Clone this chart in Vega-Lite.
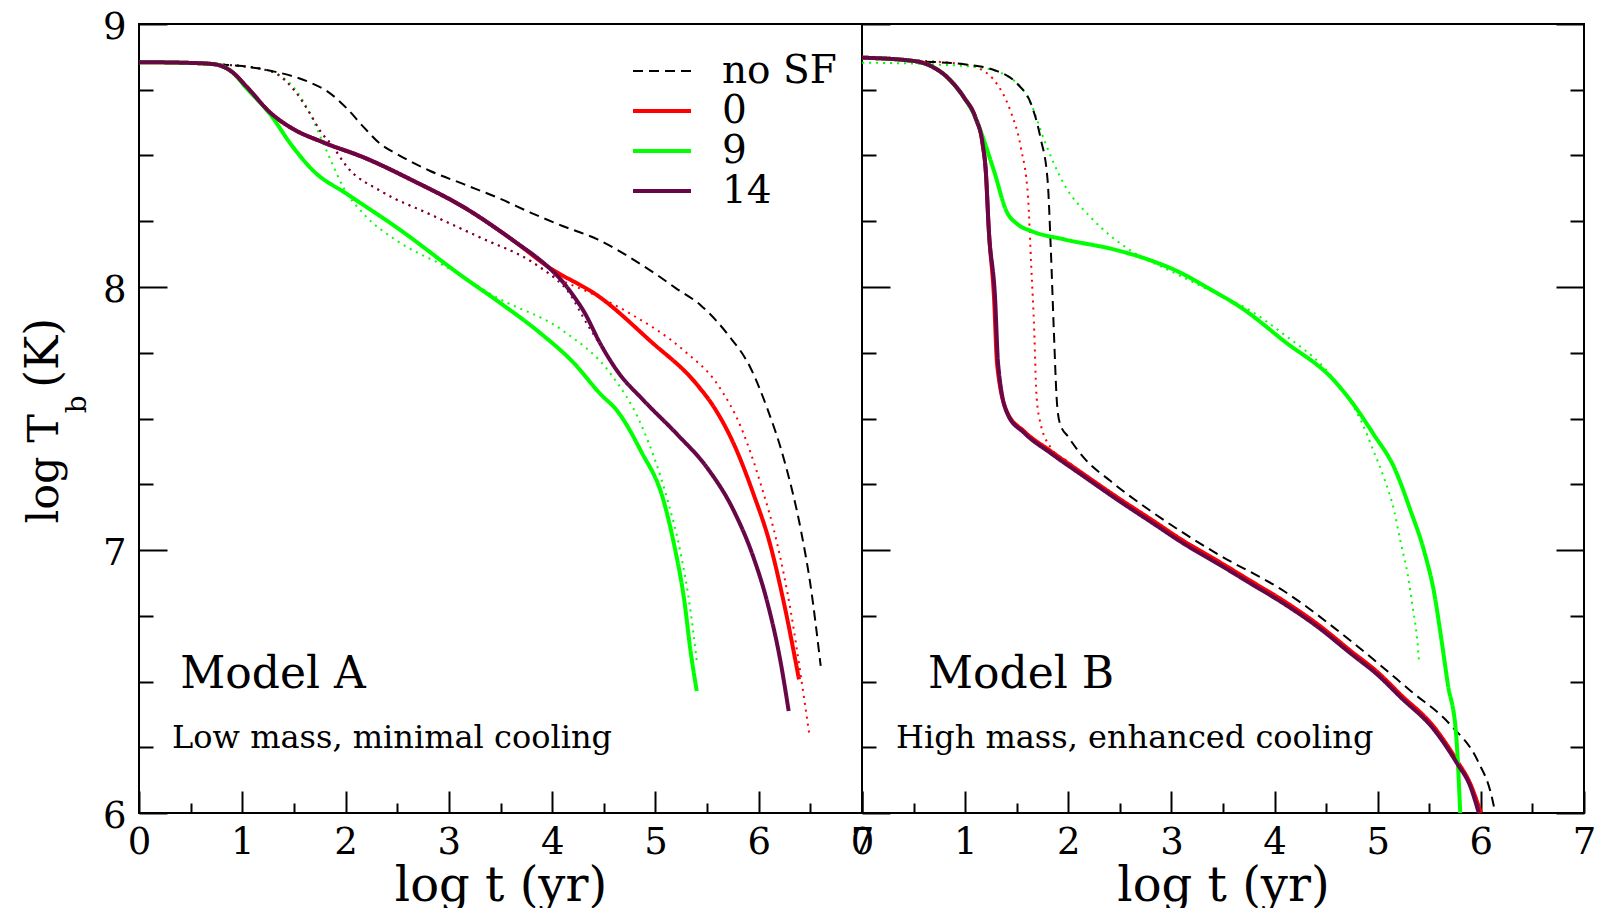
{
  "$schema": "https://vega.github.io/schema/vega-lite/v6.json",
  "background": "white",
  "padding": {"left": 19, "top": 7, "right": 0, "bottom": 0},
  "config": {
    "view": {"stroke": "black", "strokeWidth": 2},
    "axis": {
      "grid": false, "domain": false,
      "tickColor": "black", "tickWidth": 2,
      "labelFont": "DejaVu Serif", "labelFontSize": 37, "labelColor": "black",
      "labelFlush": false, "labelOverlap": false,
      "titleFont": "DejaVu Serif", "titleFontSize": 48, "titleFontWeight": "normal", "titleColor": "black"
    },
    "text": {"font": "DejaVu Serif", "color": "black"}
  },
  "datasets": {
    "A_main": [
      {"series": "no SF", "logt": 0, "logTb": 8.855}, {"series": "no SF", "logt": 0.5, "logTb": 8.852}, {"series": "no SF", "logt": 0.73, "logTb": 8.847}, {"series": "no SF", "logt": 1.0, "logTb": 8.84}, {"series": "no SF", "logt": 1.31, "logTb": 8.819}, {"series": "no SF", "logt": 1.5, "logTb": 8.8}, {"series": "no SF", "logt": 1.66, "logTb": 8.777}, {"series": "no SF", "logt": 1.82, "logTb": 8.745}, {"series": "no SF", "logt": 2.02, "logTb": 8.676}, {"series": "no SF", "logt": 2.18, "logTb": 8.606}, {"series": "no SF", "logt": 2.34, "logTb": 8.543}, {"series": "no SF", "logt": 2.5, "logTb": 8.505}, {"series": "no SF", "logt": 2.82, "logTb": 8.441}, {"series": "no SF", "logt": 3.15, "logTb": 8.39}, {"series": "no SF", "logt": 3.5, "logTb": 8.335}, {"series": "no SF", "logt": 3.79, "logTb": 8.283}, {"series": "no SF", "logt": 4.1, "logTb": 8.232}, {"series": "no SF", "logt": 4.44, "logTb": 8.181}, {"series": "no SF", "logt": 4.73, "logTb": 8.118}, {"series": "no SF", "logt": 5.0, "logTb": 8.05}, {"series": "no SF", "logt": 5.2, "logTb": 7.995}, {"series": "no SF", "logt": 5.44, "logTb": 7.93}, {"series": "no SF", "logt": 5.7, "logTb": 7.82}, {"series": "no SF", "logt": 5.92, "logTb": 7.693}, {"series": "no SF", "logt": 6.08, "logTb": 7.541}, {"series": "no SF", "logt": 6.24, "logTb": 7.351}, {"series": "no SF", "logt": 6.41, "logTb": 7.072}, {"series": "no SF", "logt": 6.5, "logTb": 6.87}, {"series": "no SF", "logt": 6.6, "logTb": 6.559},
      {"series": "0", "logt": 0, "logTb": 8.855}, {"series": "0", "logt": 0.5, "logTb": 8.852}, {"series": "0", "logt": 0.73, "logTb": 8.847}, {"series": "0", "logt": 0.89, "logTb": 8.821}, {"series": "0", "logt": 1.05, "logTb": 8.758}, {"series": "0", "logt": 1.27, "logTb": 8.663}, {"series": "0", "logt": 1.47, "logTb": 8.606}, {"series": "0", "logt": 1.79, "logTb": 8.549}, {"series": "0", "logt": 2.18, "logTb": 8.492}, {"series": "0", "logt": 2.66, "logTb": 8.403}, {"series": "0", "logt": 3.15, "logTb": 8.302}, {"series": "0", "logt": 3.63, "logTb": 8.175}, {"series": "0", "logt": 3.95, "logTb": 8.08}, {"series": "0", "logt": 4.47, "logTb": 7.959}, {"series": "0", "logt": 4.95, "logTb": 7.795}, {"series": "0", "logt": 5.4, "logTb": 7.63}, {"series": "0", "logt": 5.57, "logTb": 7.541}, {"series": "0", "logt": 5.76, "logTb": 7.402}, {"series": "0", "logt": 5.95, "logTb": 7.212}, {"series": "0", "logt": 6.11, "logTb": 7.022}, {"series": "0", "logt": 6.24, "logTb": 6.806}, {"series": "0", "logt": 6.39, "logTb": 6.508},
      {"series": "9", "logt": 0, "logTb": 8.855}, {"series": "9", "logt": 0.5, "logTb": 8.852}, {"series": "9", "logt": 0.73, "logTb": 8.847}, {"series": "9", "logt": 0.89, "logTb": 8.821}, {"series": "9", "logt": 1.05, "logTb": 8.752}, {"series": "9", "logt": 1.27, "logTb": 8.657}, {"series": "9", "logt": 1.47, "logTb": 8.543}, {"series": "9", "logt": 1.69, "logTb": 8.441}, {"series": "9", "logt": 2.02, "logTb": 8.352}, {"series": "9", "logt": 2.5, "logTb": 8.225}, {"series": "9", "logt": 3.15, "logTb": 8.035}, {"series": "9", "logt": 3.47, "logTb": 7.947}, {"series": "9", "logt": 3.9, "logTb": 7.82}, {"series": "9", "logt": 4.2, "logTb": 7.715}, {"series": "9", "logt": 4.47, "logTb": 7.592}, {"series": "9", "logt": 4.63, "logTb": 7.529}, {"series": "9", "logt": 4.86, "logTb": 7.376}, {"series": "9", "logt": 5.08, "logTb": 7.186}, {"series": "9", "logt": 5.18, "logTb": 7.022}, {"series": "9", "logt": 5.28, "logTb": 6.806}, {"series": "9", "logt": 5.34, "logTb": 6.616}, {"series": "9", "logt": 5.4, "logTb": 6.464},
      {"series": "14", "logt": 0, "logTb": 8.855}, {"series": "14", "logt": 0.5, "logTb": 8.852}, {"series": "14", "logt": 0.73, "logTb": 8.847}, {"series": "14", "logt": 0.89, "logTb": 8.821}, {"series": "14", "logt": 1.05, "logTb": 8.758}, {"series": "14", "logt": 1.27, "logTb": 8.663}, {"series": "14", "logt": 1.47, "logTb": 8.606}, {"series": "14", "logt": 1.79, "logTb": 8.549}, {"series": "14", "logt": 2.18, "logTb": 8.492}, {"series": "14", "logt": 2.66, "logTb": 8.403}, {"series": "14", "logt": 3.15, "logTb": 8.302}, {"series": "14", "logt": 3.63, "logTb": 8.175}, {"series": "14", "logt": 3.95, "logTb": 8.08}, {"series": "14", "logt": 4.08, "logTb": 8.03}, {"series": "14", "logt": 4.2, "logTb": 7.97}, {"series": "14", "logt": 4.31, "logTb": 7.905}, {"series": "14", "logt": 4.47, "logTb": 7.782}, {"series": "14", "logt": 4.63, "logTb": 7.681}, {"series": "14", "logt": 4.89, "logTb": 7.567}, {"series": "14", "logt": 5.21, "logTb": 7.44}, {"series": "14", "logt": 5.5, "logTb": 7.313}, {"series": "14", "logt": 5.76, "logTb": 7.148}, {"series": "14", "logt": 5.95, "logTb": 6.971}, {"series": "14", "logt": 6.08, "logTb": 6.806}, {"series": "14", "logt": 6.21, "logTb": 6.578}, {"series": "14", "logt": 6.29, "logTb": 6.388}
    ],
    "A_alt": [
      {"series": "0", "logt": 0, "logTb": 8.855}, {"series": "0", "logt": 0.73, "logTb": 8.847}, {"series": "0", "logt": 1.0, "logTb": 8.84}, {"series": "0", "logt": 1.2, "logTb": 8.828}, {"series": "0", "logt": 1.34, "logTb": 8.809}, {"series": "0", "logt": 1.5, "logTb": 8.75}, {"series": "0", "logt": 1.66, "logTb": 8.657}, {"series": "0", "logt": 1.76, "logTb": 8.59}, {"series": "0", "logt": 1.86, "logTb": 8.543}, {"series": "0", "logt": 2.02, "logTb": 8.454}, {"series": "0", "logt": 2.34, "logTb": 8.365}, {"series": "0", "logt": 2.82, "logTb": 8.276}, {"series": "0", "logt": 3.31, "logTb": 8.187}, {"series": "0", "logt": 3.79, "logTb": 8.099}, {"series": "0", "logt": 3.98, "logTb": 8.048}, {"series": "0", "logt": 4.4, "logTb": 7.972}, {"series": "0", "logt": 4.75, "logTb": 7.9}, {"series": "0", "logt": 5.28, "logTb": 7.757}, {"series": "0", "logt": 5.6, "logTb": 7.63}, {"series": "0", "logt": 5.83, "logTb": 7.465}, {"series": "0", "logt": 6.02, "logTb": 7.25}, {"series": "0", "logt": 6.18, "logTb": 7.022}, {"series": "0", "logt": 6.31, "logTb": 6.768}, {"series": "0", "logt": 6.41, "logTb": 6.515}, {"series": "0", "logt": 6.49, "logTb": 6.299},
      {"series": "9", "logt": 0, "logTb": 8.855}, {"series": "9", "logt": 0.73, "logTb": 8.847}, {"series": "9", "logt": 1.0, "logTb": 8.84}, {"series": "9", "logt": 1.2, "logTb": 8.828}, {"series": "9", "logt": 1.34, "logTb": 8.809}, {"series": "9", "logt": 1.5, "logTb": 8.758}, {"series": "9", "logt": 1.66, "logTb": 8.657}, {"series": "9", "logt": 1.76, "logTb": 8.568}, {"series": "9", "logt": 1.86, "logTb": 8.479}, {"series": "9", "logt": 1.98, "logTb": 8.378}, {"series": "9", "logt": 2.18, "logTb": 8.276}, {"series": "9", "logt": 2.5, "logTb": 8.175}, {"series": "9", "logt": 2.99, "logTb": 8.073}, {"series": "9", "logt": 3.47, "logTb": 7.959}, {"series": "9", "logt": 4.1, "logTb": 7.835}, {"series": "9", "logt": 4.57, "logTb": 7.668}, {"series": "9", "logt": 4.86, "logTb": 7.478}, {"series": "9", "logt": 5.12, "logTb": 7.186}, {"series": "9", "logt": 5.24, "logTb": 6.996}, {"series": "9", "logt": 5.34, "logTb": 6.768}, {"series": "9", "logt": 5.4, "logTb": 6.578},
      {"series": "14", "logt": 0, "logTb": 8.855}, {"series": "14", "logt": 0.73, "logTb": 8.847}, {"series": "14", "logt": 1.0, "logTb": 8.84}, {"series": "14", "logt": 1.2, "logTb": 8.828}, {"series": "14", "logt": 1.34, "logTb": 8.809}, {"series": "14", "logt": 1.5, "logTb": 8.75}, {"series": "14", "logt": 1.66, "logTb": 8.657}, {"series": "14", "logt": 1.76, "logTb": 8.59}, {"series": "14", "logt": 1.86, "logTb": 8.543}, {"series": "14", "logt": 2.02, "logTb": 8.454}, {"series": "14", "logt": 2.34, "logTb": 8.365}, {"series": "14", "logt": 2.82, "logTb": 8.276}, {"series": "14", "logt": 3.31, "logTb": 8.187}, {"series": "14", "logt": 3.79, "logTb": 8.099}, {"series": "14", "logt": 3.98, "logTb": 8.048}, {"series": "14", "logt": 4.15, "logTb": 7.985}, {"series": "14", "logt": 4.34, "logTb": 7.858}, {"series": "14", "logt": 4.45, "logTb": 7.79}
    ],
    "B_main": [
      {"series": "no SF", "logt": 0, "logTb": 8.872}, {"series": "no SF", "logt": 0.51, "logTb": 8.859}, {"series": "no SF", "logt": 0.99, "logTb": 8.847}, {"series": "no SF", "logt": 1.31, "logTb": 8.821}, {"series": "no SF", "logt": 1.51, "logTb": 8.771}, {"series": "no SF", "logt": 1.64, "logTb": 8.695}, {"series": "no SF", "logt": 1.73, "logTb": 8.568}, {"series": "no SF", "logt": 1.8, "logTb": 8.403}, {"series": "no SF", "logt": 1.83, "logTb": 8.15}, {"series": "no SF", "logt": 1.86, "logTb": 7.833}, {"series": "no SF", "logt": 1.89, "logTb": 7.56}, {"series": "no SF", "logt": 1.92, "logTb": 7.48}, {"series": "no SF", "logt": 2.0, "logTb": 7.43}, {"series": "no SF", "logt": 2.15, "logTb": 7.351}, {"series": "no SF", "logt": 2.41, "logTb": 7.262}, {"series": "no SF", "logt": 2.8, "logTb": 7.148}, {"series": "no SF", "logt": 3.45, "logTb": 6.984}, {"series": "no SF", "logt": 4.09, "logTb": 6.844}, {"series": "no SF", "logt": 4.74, "logTb": 6.654}, {"series": "no SF", "logt": 5.32, "logTb": 6.464}, {"series": "no SF", "logt": 5.7, "logTb": 6.337}, {"series": "no SF", "logt": 5.97, "logTb": 6.198}, {"series": "no SF", "logt": 6.1, "logTb": 6.071}, {"series": "no SF", "logt": 6.14, "logTb": 6.0},
      {"series": "0", "logt": 0, "logTb": 8.872}, {"series": "0", "logt": 0.51, "logTb": 8.859}, {"series": "0", "logt": 0.67, "logTb": 8.84}, {"series": "0", "logt": 0.83, "logTb": 8.796}, {"series": "0", "logt": 0.99, "logTb": 8.72}, {"series": "0", "logt": 1.1, "logTb": 8.644}, {"series": "0", "logt": 1.17, "logTb": 8.543}, {"series": "0", "logt": 1.2, "logTb": 8.441}, {"series": "0", "logt": 1.23, "logTb": 8.213}, {"series": "0", "logt": 1.28, "logTb": 7.959}, {"series": "0", "logt": 1.31, "logTb": 7.706}, {"series": "0", "logt": 1.41, "logTb": 7.522}, {"series": "0", "logt": 1.57, "logTb": 7.452}, {"series": "0", "logt": 1.83, "logTb": 7.376}, {"series": "0", "logt": 2.15, "logTb": 7.288}, {"series": "0", "logt": 2.48, "logTb": 7.199}, {"series": "0", "logt": 2.8, "logTb": 7.117}, {"series": "0", "logt": 3.12, "logTb": 7.034}, {"series": "0", "logt": 3.45, "logTb": 6.958}, {"series": "0", "logt": 3.77, "logTb": 6.882}, {"series": "0", "logt": 4.09, "logTb": 6.806}, {"series": "0", "logt": 4.42, "logTb": 6.717}, {"series": "0", "logt": 4.74, "logTb": 6.616}, {"series": "0", "logt": 5.0, "logTb": 6.535}, {"series": "0", "logt": 5.22, "logTb": 6.451}, {"series": "0", "logt": 5.55, "logTb": 6.325}, {"series": "0", "logt": 5.77, "logTb": 6.198}, {"series": "0", "logt": 5.9, "logTb": 6.109}, {"series": "0", "logt": 6.0, "logTb": 6.0},
      {"series": "9", "logt": 0, "logTb": 8.872}, {"series": "9", "logt": 0.51, "logTb": 8.859}, {"series": "9", "logt": 0.67, "logTb": 8.84}, {"series": "9", "logt": 0.83, "logTb": 8.796}, {"series": "9", "logt": 0.99, "logTb": 8.72}, {"series": "9", "logt": 1.1, "logTb": 8.644}, {"series": "9", "logt": 1.15, "logTb": 8.593}, {"series": "9", "logt": 1.28, "logTb": 8.441}, {"series": "9", "logt": 1.4, "logTb": 8.289}, {"series": "9", "logt": 1.51, "logTb": 8.238}, {"series": "9", "logt": 1.64, "logTb": 8.213}, {"series": "9", "logt": 1.96, "logTb": 8.181}, {"series": "9", "logt": 2.44, "logTb": 8.143}, {"series": "9", "logt": 2.77, "logTb": 8.105}, {"series": "9", "logt": 3.09, "logTb": 8.054}, {"series": "9", "logt": 3.32, "logTb": 8.004}, {"series": "9", "logt": 3.7, "logTb": 7.915}, {"series": "9", "logt": 4.09, "logTb": 7.795}, {"series": "9", "logt": 4.58, "logTb": 7.643}, {"series": "9", "logt": 4.74, "logTb": 7.567}, {"series": "9", "logt": 4.96, "logTb": 7.44}, {"series": "9", "logt": 5.16, "logTb": 7.313}, {"series": "9", "logt": 5.32, "logTb": 7.148}, {"series": "9", "logt": 5.45, "logTb": 6.996}, {"series": "9", "logt": 5.55, "logTb": 6.831}, {"series": "9", "logt": 5.61, "logTb": 6.68}, {"series": "9", "logt": 5.68, "logTb": 6.49}, {"series": "9", "logt": 5.76, "logTb": 6.3}, {"series": "9", "logt": 5.8, "logTb": 6.0},
      {"series": "14", "logt": 0, "logTb": 8.872}, {"series": "14", "logt": 0.51, "logTb": 8.859}, {"series": "14", "logt": 0.67, "logTb": 8.84}, {"series": "14", "logt": 0.83, "logTb": 8.796}, {"series": "14", "logt": 0.99, "logTb": 8.72}, {"series": "14", "logt": 1.1, "logTb": 8.644}, {"series": "14", "logt": 1.17, "logTb": 8.543}, {"series": "14", "logt": 1.2, "logTb": 8.441}, {"series": "14", "logt": 1.23, "logTb": 8.213}, {"series": "14", "logt": 1.29, "logTb": 7.959}, {"series": "14", "logt": 1.32, "logTb": 7.706}, {"series": "14", "logt": 1.41, "logTb": 7.518}, {"series": "14", "logt": 1.57, "logTb": 7.446}, {"series": "14", "logt": 1.83, "logTb": 7.368}, {"series": "14", "logt": 2.15, "logTb": 7.28}, {"series": "14", "logt": 2.48, "logTb": 7.19}, {"series": "14", "logt": 2.8, "logTb": 7.107}, {"series": "14", "logt": 3.12, "logTb": 7.024}, {"series": "14", "logt": 3.45, "logTb": 6.948}, {"series": "14", "logt": 3.77, "logTb": 6.872}, {"series": "14", "logt": 4.09, "logTb": 6.796}, {"series": "14", "logt": 4.42, "logTb": 6.707}, {"series": "14", "logt": 4.74, "logTb": 6.606}, {"series": "14", "logt": 5.0, "logTb": 6.525}, {"series": "14", "logt": 5.22, "logTb": 6.441}, {"series": "14", "logt": 5.55, "logTb": 6.315}, {"series": "14", "logt": 5.77, "logTb": 6.188}, {"series": "14", "logt": 5.9, "logTb": 6.099}, {"series": "14", "logt": 5.98, "logTb": 6.0}
    ],
    "B_alt": [
      {"series": "0", "logt": 0, "logTb": 8.872}, {"series": "0", "logt": 0.5, "logTb": 8.862}, {"series": "0", "logt": 1.0, "logTb": 8.845}, {"series": "0", "logt": 1.15, "logTb": 8.828}, {"series": "0", "logt": 1.31, "logTb": 8.771}, {"series": "0", "logt": 1.44, "logTb": 8.669}, {"series": "0", "logt": 1.54, "logTb": 8.53}, {"series": "0", "logt": 1.61, "logTb": 8.34}, {"series": "0", "logt": 1.64, "logTb": 8.086}, {"series": "0", "logt": 1.67, "logTb": 7.833}, {"series": "0", "logt": 1.69, "logTb": 7.6}, {"series": "0", "logt": 1.72, "logTb": 7.5}, {"series": "0", "logt": 1.83, "logTb": 7.389}, {"series": "0", "logt": 1.99, "logTb": 7.338}, {"series": "0", "logt": 2.2, "logTb": 7.275}, {"series": "0", "logt": 2.35, "logTb": 7.235},
      {"series": "9", "logt": 0, "logTb": 8.853}, {"series": "9", "logt": 0.67, "logTb": 8.847}, {"series": "9", "logt": 1.15, "logTb": 8.834}, {"series": "9", "logt": 1.48, "logTb": 8.783}, {"series": "9", "logt": 1.64, "logTb": 8.695}, {"series": "9", "logt": 1.77, "logTb": 8.555}, {"series": "9", "logt": 1.96, "logTb": 8.39}, {"series": "9", "logt": 2.22, "logTb": 8.264}, {"series": "9", "logt": 2.61, "logTb": 8.137}, {"series": "9", "logt": 2.99, "logTb": 8.061}, {"series": "9", "logt": 3.35, "logTb": 7.991}, {"series": "9", "logt": 3.77, "logTb": 7.909}, {"series": "9", "logt": 4.09, "logTb": 7.82}, {"series": "9", "logt": 4.48, "logTb": 7.693}, {"series": "9", "logt": 4.71, "logTb": 7.579}, {"series": "9", "logt": 4.84, "logTb": 7.49}, {"series": "9", "logt": 4.96, "logTb": 7.376}, {"series": "9", "logt": 5.06, "logTb": 7.275}, {"series": "9", "logt": 5.16, "logTb": 7.148}, {"series": "9", "logt": 5.22, "logTb": 7.034}, {"series": "9", "logt": 5.29, "logTb": 6.908}, {"series": "9", "logt": 5.34, "logTb": 6.781}, {"series": "9", "logt": 5.39, "logTb": 6.629}, {"series": "9", "logt": 5.4, "logTb": 6.578}
    ]
  },
  "spacing": 0,
  "bounds": "flush",
  "resolve": {
    "scale": {"color": "independent", "strokeDash": "independent", "strokeWidth": "independent"},
    "legend": {"color": "independent", "strokeDash": "independent", "strokeWidth": "independent"}
  },
  "hconcat": [
    {
      "width": 723,
      "height": 789,
      "resolve": {"axis": {"x": "independent", "y": "independent"}},
      "layer": [
        {
          "data": {"name": "A_alt"},
          "transform": [{"filter": "datum.series === '0'"}],
          "mark": {"type": "line", "interpolate": "monotone", "strokeWidth": 2, "strokeDash": [2, 5], "strokeCap": "butt", "color": "#ff0000"},
          "encoding": {
            "x": {"field": "logt", "type": "quantitative", "scale": {"domain": [0, 7], "nice": false, "zero": false},
                  "axis": {"orient": "bottom", "values": [0.5, 1.5, 2.5, 3.5, 4.5, 5.5, 6.5], "tickSize": -10, "labels": false, "title": null}},
            "y": {"field": "logTb", "type": "quantitative", "scale": {"domain": [6, 9], "nice": false, "zero": false},
                  "axis": {"orient": "left", "values": [6.25, 6.5, 6.75, 7.25, 7.5, 7.75, 8.25, 8.5, 8.75], "tickSize": -14, "labels": false, "title": null}}
          }
        },
        {
          "data": {"name": "A_alt"},
          "transform": [{"filter": "datum.series === '9'"}],
          "mark": {"type": "line", "interpolate": "monotone", "strokeWidth": 2, "strokeDash": [2, 5], "strokeCap": "butt", "color": "#00ff00"},
          "encoding": {
            "x": {"field": "logt", "type": "quantitative", "axis": null},
            "y": {"field": "logTb", "type": "quantitative", "axis": null}
          }
        },
        {
          "data": {"name": "A_alt"},
          "transform": [{"filter": "datum.series === '14'"}],
          "mark": {"type": "line", "interpolate": "monotone", "strokeWidth": 2, "strokeDash": [2, 5], "strokeCap": "butt", "color": "#670748"},
          "encoding": {
            "x": {"field": "logt", "type": "quantitative", "axis": null},
            "y": {"field": "logTb", "type": "quantitative", "axis": null}
          }
        },
        {
          "data": {"name": "A_main"},
          "mark": {"type": "line", "interpolate": "monotone", "strokeCap": "butt", "strokeJoin": "round"},
          "encoding": {
            "x": {"field": "logt", "type": "quantitative",
                  "axis": {"orient": "bottom", "values": [0, 1, 2, 3, 4, 5, 6, 7], "tickSize": -22, "labelPadding": 33, "title": "log t (yr)", "titlePadding": 2}},
            "y": {"field": "logTb", "type": "quantitative",
                  "axis": {"orient": "left", "values": [6, 7, 8, 9], "tickSize": -28, "labelPadding": 41, "labelOffset": 3, "title": null}},
            "color": {"field": "series", "type": "nominal", "scale": {"domain": ["no SF", "0", "9", "14"], "range": ["#000000", "#ff0000", "#00ff00", "#670748"]},
                      "legend": {"orient": "none", "legendX": 492, "legendY": 28, "title": null, "symbolType": "stroke", "symbolSize": 3364, "clipHeight": 38, "labelFont": "DejaVu Serif", "labelFontSize": 39, "labelColor": "black", "labelOffset": 29, "rowPadding": 1}},
            "strokeDash": {"field": "series", "type": "nominal", "scale": {"domain": ["no SF", "0", "9", "14"], "range": [[10, 6], [1, 0], [1, 0], [1, 0]]},
                           "legend": {"orient": "none", "legendX": 492, "legendY": 28, "title": null, "symbolType": "stroke", "symbolSize": 3364, "clipHeight": 38, "labelFont": "DejaVu Serif", "labelFontSize": 39, "labelColor": "black", "labelOffset": 29, "rowPadding": 1}},
            "strokeWidth": {"field": "series", "type": "nominal", "scale": {"type": "ordinal", "domain": ["no SF", "0", "9", "14"], "range": [2, 4, 4, 4]},
                            "legend": {"orient": "none", "legendX": 492, "legendY": 28, "title": null, "symbolType": "stroke", "symbolSize": 3364, "clipHeight": 38, "labelFont": "DejaVu Serif", "labelFontSize": 39, "labelColor": "black", "labelOffset": 29, "rowPadding": 1}}
          }
        },
        {
          "data": {"values": [{}]},
          "mark": {"type": "text", "text": "Model A", "fontSize": 44, "align": "left", "baseline": "alphabetic"},
          "encoding": {"x": {"datum": 0.4, "axis": null}, "y": {"datum": 6.475, "axis": null}}
        },
        {
          "data": {"values": [{}]},
          "mark": {"type": "text", "text": "Low mass, minimal cooling", "fontSize": 32, "align": "left", "baseline": "alphabetic"},
          "encoding": {"x": {"datum": 0.32, "axis": null}, "y": {"datum": 6.247, "axis": null}}
        },
        {
          "data": {"values": [{}]},
          "mark": {"type": "text", "text": "log T", "fontSize": 43, "align": "right", "baseline": "alphabetic", "angle": 270, "clip": false},
          "encoding": {"x": {"datum": -0.787, "axis": null}, "y": {"datum": 7.517, "axis": null}}
        },
        {
          "data": {"values": [{}]},
          "mark": {"type": "text", "text": "b", "fontSize": 28, "align": "left", "baseline": "alphabetic", "angle": 270, "clip": false},
          "encoding": {"x": {"datum": -0.516, "axis": null}, "y": {"datum": 7.52, "axis": null}}
        },
        {
          "data": {"values": [{}]},
          "mark": {"type": "text", "text": "(K)", "fontSize": 46, "align": "left", "baseline": "alphabetic", "angle": 270, "clip": false},
          "encoding": {"x": {"datum": -0.787, "axis": null}, "y": {"datum": 7.616, "axis": null}}
        }
      ]
    },
    {
      "width": 722,
      "height": 789,
      "resolve": {"axis": {"x": "independent", "y": "independent"}},
      "layer": [
        {
          "data": {"name": "B_alt"},
          "transform": [{"filter": "datum.series === '0'"}],
          "mark": {"type": "line", "interpolate": "monotone", "strokeWidth": 2, "strokeDash": [2, 5], "strokeCap": "butt", "color": "#ff0000"},
          "encoding": {
            "x": {"field": "logt", "type": "quantitative", "scale": {"domain": [0, 7], "nice": false, "zero": false},
                  "axis": {"orient": "bottom", "values": [0.5, 1.5, 2.5, 3.5, 4.5, 5.5, 6.5], "tickSize": -10, "labels": false, "title": null}},
            "y": {"field": "logTb", "type": "quantitative", "scale": {"domain": [6, 9], "nice": false, "zero": false},
                  "axis": {"orient": "left", "values": [6.25, 6.5, 6.75, 7.25, 7.5, 7.75, 8.25, 8.5, 8.75], "tickSize": -14, "labels": false, "title": null}}
          }
        },
        {
          "data": {"name": "B_alt"},
          "transform": [{"filter": "datum.series === '9'"}],
          "mark": {"type": "line", "interpolate": "monotone", "strokeWidth": 2, "strokeDash": [2, 5], "strokeCap": "butt", "color": "#00ff00"},
          "encoding": {
            "x": {"field": "logt", "type": "quantitative", "axis": null},
            "y": {"field": "logTb", "type": "quantitative", "axis": null}
          }
        },
        {
          "data": {"name": "B_main"},
          "mark": {"type": "line", "interpolate": "monotone", "strokeCap": "butt", "strokeJoin": "round"},
          "encoding": {
            "x": {"field": "logt", "type": "quantitative",
                  "axis": {"orient": "bottom", "values": [0, 1, 2, 3, 4, 5, 6, 7], "tickSize": -22, "labelPadding": 33, "title": "log t (yr)", "titlePadding": 2}},
            "y": {"field": "logTb", "type": "quantitative",
                  "axis": {"orient": "left", "values": [6, 7, 8, 9], "tickSize": -28, "labels": false, "title": null}},
            "color": {"field": "series", "type": "nominal", "scale": {"domain": ["no SF", "0", "9", "14"], "range": ["#000000", "#ff0000", "#00ff00", "#670748"]}, "legend": null},
            "strokeDash": {"field": "series", "type": "nominal", "scale": {"domain": ["no SF", "0", "9", "14"], "range": [[10, 6], [1, 0], [1, 0], [1, 0]]}, "legend": null},
            "strokeWidth": {"field": "series", "type": "nominal", "scale": {"type": "ordinal", "domain": ["no SF", "0", "9", "14"], "range": [2, 4, 4, 4]}, "legend": null}
          }
        },
        {
          "data": {"values": [{}]},
          "mark": {"type": "text", "text": "Model B", "fontSize": 44, "align": "left", "baseline": "alphabetic"},
          "encoding": {"x": {"datum": 0.64, "axis": null},
                       "y": {"datum": 6.475, "axis": {"orient": "right", "values": [6, 7, 8, 9], "tickSize": -28, "labels": false, "title": null}}}
        },
        {
          "data": {"values": [{}]},
          "mark": {"type": "text", "text": "High mass, enhanced cooling", "fontSize": 32, "align": "left", "baseline": "alphabetic"},
          "encoding": {"x": {"datum": 0.33, "axis": null},
                       "y": {"datum": 6.247, "axis": {"orient": "right", "values": [6.25, 6.5, 6.75, 7.25, 7.5, 7.75, 8.25, 8.5, 8.75], "tickSize": -14, "labels": false, "title": null}}}
        }
      ]
    }
  ]
}
